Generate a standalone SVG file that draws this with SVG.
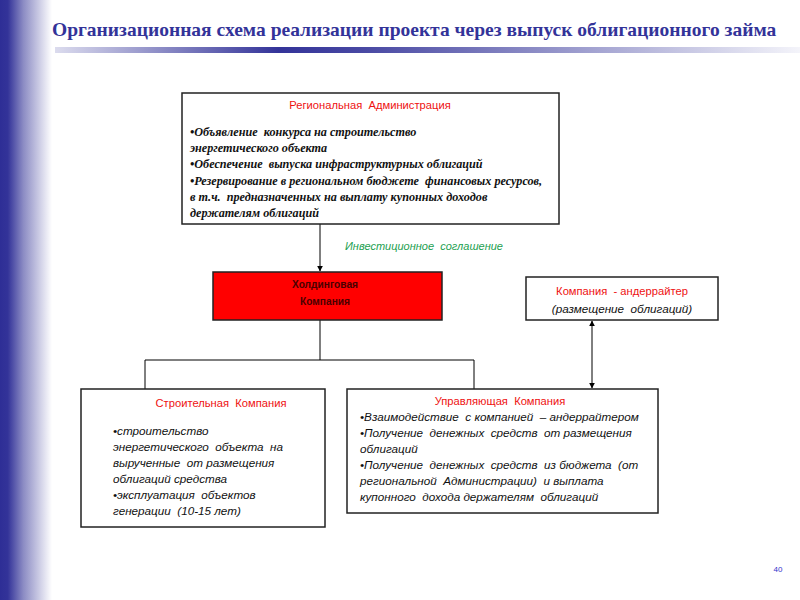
<svg xmlns="http://www.w3.org/2000/svg" width="800" height="600" viewBox="0 0 800 600">
<defs>
<linearGradient id="side" x1="0" y1="0" x2="1" y2="0">
<stop offset="0" stop-color="#2e2e96"/>
<stop offset="0.15" stop-color="#333399"/>
<stop offset="0.45" stop-color="#8c8cc4"/>
<stop offset="1" stop-color="#ffffff"/>
</linearGradient>
<linearGradient id="rule" x1="55" y1="0" x2="800" y2="0" gradientUnits="userSpaceOnUse">
<stop offset="0" stop-color="#dcdcee"/>
<stop offset="0.3" stop-color="#333399"/>
<stop offset="0.42" stop-color="#4a4aa4"/>
<stop offset="1" stop-color="#f4f4fa"/>
</linearGradient>
<marker id="arr" viewBox="0 0 10 10" refX="9" refY="5" markerWidth="6" markerHeight="6" orient="auto-start-reverse" markerUnits="userSpaceOnUse">
<path d="M0,0 L10,5 L0,10 z" fill="#000"/>
</marker>
<style>
text{white-space:pre}
.box{fill:#fff;stroke:#222;stroke-width:1.5}
.conn{fill:none;stroke:#000;stroke-width:1}
.ser{font-family:"Liberation Serif",serif;font-style:italic;font-weight:bold;font-size:12.2px;fill:#111}
.san{font-family:"Liberation Sans",Arial,sans-serif;font-style:italic;font-size:11.7px;fill:#111}
.hd{font-family:"Liberation Sans",Arial,sans-serif;font-size:11.2px;fill:#ee1111;text-anchor:middle}
</style>
</defs>
<rect x="0" y="0" width="800" height="600" fill="#fff"/>
<rect x="0" y="0" width="52" height="600" fill="url(#side)"/>
<rect x="55" y="47" width="745" height="6" fill="url(#rule)"/>
<text x="52" y="36" font-family="'Liberation Serif',serif" font-weight="bold" font-size="19.5" fill="#333399">Организационная схема реализации проекта через выпуск облигационного займа</text>

<g id="connectors">
<line class="conn" x1="320" y1="224" x2="320" y2="271" marker-end="url(#arr)"/>
<polyline class="conn" points="320,320 320,360"/>
<polyline class="conn" points="145,389 145,360 474,360 474,389"/>
<line class="conn" x1="592" y1="321" x2="592" y2="388" marker-start="url(#arr)" marker-end="url(#arr)"/>
<text x="345" y="250" font-family="'Liberation Sans',Arial,sans-serif" font-style="italic" font-size="11" fill="#22a050">Инвестиционное  соглашение</text>
</g>

<g id="regional">
<rect class="box" x="182" y="93" width="377" height="131"/>
<text class="hd" x="370" y="109">Региональная  Администрация</text>
<text class="ser" x="190" y="136">•Объявление  конкурса на строительство</text>
<text class="ser" x="190" y="152">энергетического объекта</text>
<text class="ser" x="190" y="168">•Обеспечение  выпуска инфраструктурных облигаций</text>
<text class="ser" x="190" y="185">•Резервирование в региональном бюджете  финансовых ресурсов,</text>
<text class="ser" x="190" y="201">в т.ч.  предназначенных на выплату купонных доходов</text>
<text class="ser" x="190" y="217">держателям облигаций</text>
</g>

<g id="holding">
<rect x="213" y="272" width="229" height="48" fill="#ff0000" stroke="#222" stroke-width="1.5"/>
<text x="325" y="288" font-family="'Liberation Sans',Arial,sans-serif" font-weight="bold" font-size="10.2" fill="#4a0000" text-anchor="middle">Холдинговая</text>
<text x="325" y="305" font-family="'Liberation Sans',Arial,sans-serif" font-weight="bold" font-size="10.2" fill="#4a0000" text-anchor="middle">Компания</text>
</g>

<g id="underwriter">
<rect class="box" x="526" y="277" width="192" height="43"/>
<text class="hd" x="622" y="295">Компания  - андеррайтер</text>
<text class="san" x="622" y="313" text-anchor="middle">(размещение  облигаций)</text>
</g>

<g id="construction">
<rect class="box" x="81" y="389" width="244" height="138"/>
<text class="hd" x="221" y="407">Строительная  Компания</text>
<text class="san" x="113" y="435">•строительство</text>
<text class="san" x="113" y="451">энергетического  объекта  на</text>
<text class="san" x="113" y="467">вырученные  от размещения</text>
<text class="san" x="113" y="483">облигаций средства</text>
<text class="san" x="113" y="499">•эксплуатация  объектов</text>
<text class="san" x="113" y="515">генерации  (10-15 лет)</text>
</g>

<g id="managing">
<rect class="box" x="347" y="389" width="311" height="124"/>
<text class="hd" x="500" y="405">Управляющая  Компания</text>
<text class="san" x="360" y="421">•Взаимодействие  с компанией  – андеррайтером</text>
<text class="san" x="360" y="437">•Получение  денежных  средств  от размещения</text>
<text class="san" x="360" y="453">облигаций</text>
<text class="san" x="360" y="469">•Получение  денежных  средств  из бюджета  (от</text>
<text class="san" x="360" y="485">региональной  Администрации)  и выплата</text>
<text class="san" x="360" y="501">купонного  дохода держателям  облигаций</text>
</g>

<text x="778" y="572" font-family="'Liberation Sans',Arial,sans-serif" font-size="8" fill="#3333cc" text-anchor="middle">40</text>
</svg>
